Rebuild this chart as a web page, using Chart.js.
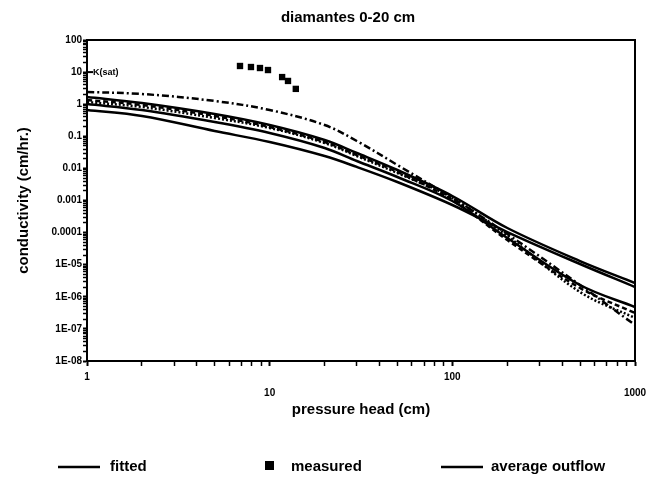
<!DOCTYPE html>
<html><head><meta charset="utf-8">
<style>html,body{margin:0;padding:0;background:#fff}#wrap{width:651px;height:488px}</style>
</head><body><div id="wrap"><canvas id="c" width="651" height="488"></canvas></div>
<script src="https://cdn.jsdelivr.net/npm/chart.js@4/dist/chart.umd.min.js"></script>
<script>
// pressure head samples (cm)
const pressureHead = [1, 2, 5, 10, 20, 30, 50, 100, 200, 500, 1000];
// conductivity curves (cm/hr)
const curveA = [2.40, 2.08, 1.26, 0.659, 0.225, 0.0714, 0.0128, 0.00120, 0.0000904, 2.33e-6, 1.32e-7];
const curveB = [1.67, 1.09, 0.495, 0.225, 0.0767, 0.0302, 0.00891, 0.00138, 0.000139, 0.0000130, 2.69e-6];
const curveC = [1.17, 0.818, 0.372, 0.182, 0.0618, 0.0243, 0.00719, 0.00120, 0.0000783, 1.41e-6, 2.19e-7];
const curveD = [0.659, 0.429, 0.146, 0.0664, 0.0243, 0.0111, 0.00377, 0.000724, 0.000104, 0.0000105, 2.02e-6];
const curveE = [1.35, 0.944, 0.429, 0.195, 0.0664, 0.0261, 0.00773, 0.00104, 0.0000587, 1.88e-6, 3.13e-7];
const curveF = [1.01, 0.659, 0.279, 0.127, 0.0433, 0.0170, 0.00540, 0.000964, 0.0000679, 2.33e-6, 4.81e-7];
// measured points
const measuredHead = [6.88, 7.90, 8.85, 9.79, 11.7, 12.6, 13.9];
const measuredK = [15.5, 14.4, 13.4, 11.6, 7.0, 5.3, 3.0];
const ksatValue = 10;
// ticks
const xDecades = [1, 10, 100, 1000];
const xTickLabels = ['1', '10', '100', '1000'];
const yDecades = [1e-8, 1e-7, 1e-6, 1e-5, 1e-4, 1e-3, 1e-2, 1e-1, 1, 10, 100];
const yTickLabels = ['1E-08', '1E-07', '1E-06', '1E-05', '0.0001', '0.001', '0.01', '0.1', '1', '10', '100'];

const FONT = "'Liberation Sans', Arial, sans-serif";

function logTicks(decades) {
  const t = [];
  for (let i = 0; i < decades.length - 1; i++) {
    for (let m = 1; m <= 9; m++) t.push({ value: decades[i] * m });
  }
  t.push({ value: decades[decades.length - 1] });
  return t;
}
function decadeIndex(decades, v) {
  for (let i = 0; i < decades.length; i++) {
    if (Math.abs(Math.log10(v) - Math.log10(decades[i])) < 1e-6) return i;
  }
  return -1;
}
function pts(ys) { return pressureHead.map((x, i) => ({ x, y: ys[i] })); }
function lineDs(label, ys, dash) {
  return { label, data: pts(ys), borderColor: '#000', borderWidth: 2.5, borderDash: dash,
    pointRadius: 0, fill: false, tension: 0.35 };
}

const extras = {
  id: 'extras',
  afterDraw(chart) {
    const { ctx, chartArea: a } = chart;
    ctx.save();
    ctx.strokeStyle = '#000'; ctx.lineWidth = 2;
    ctx.strokeRect(a.left, a.top, a.right - a.left, a.bottom - a.top);
    ctx.fillStyle = '#000';
    ctx.font = "bold 15px " + FONT;
    ctx.textAlign = 'center'; ctx.textBaseline = 'middle';
    ctx.fillText('diamantes 0-20 cm', 348, 18);
    // Ksat marker
    const yk = chart.scales.y.getPixelForValue(ksatValue);
    ctx.lineWidth = 2;
    ctx.beginPath(); ctx.moveTo(a.left, yk); ctx.lineTo(a.left + 6, yk); ctx.stroke();
    ctx.font = "bold 9px " + FONT; ctx.textAlign = 'left';
    ctx.fillText('K(sat)', a.left + 6, yk);
    // legend
    const ly = 467;
    ctx.lineWidth = 2.5;
    ctx.beginPath(); ctx.moveTo(58, ly); ctx.lineTo(100, ly); ctx.stroke();
    ctx.beginPath(); ctx.moveTo(441, ly); ctx.lineTo(483, ly); ctx.stroke();
    ctx.fillRect(265, ly - 6, 9, 9);
    ctx.font = "bold 15px " + FONT; ctx.textAlign = 'left';
    ctx.fillText('fitted', 110, ly);
    ctx.fillText('measured', 291, ly);
    ctx.fillText('average outflow', 491, ly);
    ctx.restore();
  }
};

new Chart(document.getElementById('c'), {
  type: 'line',
  data: {
    datasets: [
      lineDs('A', curveA, [7, 3, 2, 3]),
      lineDs('B', curveB, []),
      lineDs('C', curveC, [2, 2]),
      lineDs('D', curveD, []),
      lineDs('E', curveE, [5, 3]),
      lineDs('F', curveF, []),
      { label: 'measured', type: 'scatter', showLine: false,
        data: measuredHead.map((x, i) => ({ x, y: measuredK[i] })),
        pointStyle: 'rect', pointRadius: 4.5, backgroundColor: '#000', borderColor: '#000', borderWidth: 0 }
    ]
  },
  options: {
    responsive: false, animation: false, devicePixelRatio: 1,
    layout: { padding: { left: 9, top: 40, right: 16, bottom: 66 } },
    plugins: { legend: { display: false }, tooltip: { enabled: false }, title: { display: false } },
    scales: {
      x: {
        type: 'logarithmic', min: 1, max: 1000,
        afterFit(s) { s.height = 61; },
        afterBuildTicks(s) { s.ticks = logTicks(xDecades); },
        border: { color: '#000', width: 2 },
        grid: { drawOnChartArea: false, drawTicks: true, tickLength: 5, color: '#000', tickColor: '#000',
          tickWidth: c => decadeIndex(xDecades, c.tick.value) >= 0 ? 2 : 1.5 },
        ticks: {
          autoSkip: false, maxRotation: 0, color: '#000', padding: 3,
          font: { family: FONT, size: 10, weight: 'bold', lineHeight: 1.6 },
          callback(v) {
            const i = decadeIndex(xDecades, v);
            if (i < 0) return '';
            return (i % 2 === 1) ? ['', xTickLabels[i]] : xTickLabels[i];
          }
        },
        title: { display: true, text: 'pressure head (cm)', color: '#000',
          font: { family: FONT, size: 15, weight: 'bold' }, padding: { top: 0, bottom: 3 } }
      },
      y: {
        type: 'logarithmic', min: 1e-8, max: 100,
        afterFit(s) { s.width = 78; },
        afterBuildTicks(s) { s.ticks = logTicks(yDecades); },
        border: { color: '#000', width: 2 },
        grid: { drawOnChartArea: false, drawTicks: true, tickLength: 4, color: '#000', tickColor: '#000',
          tickWidth: c => decadeIndex(yDecades, c.tick.value) >= 0 ? 2 : 1.5 },
        ticks: {
          autoSkip: false, color: '#000', padding: 1,
          font: { family: FONT, size: 10, weight: 'bold' },
          callback(v) {
            const i = decadeIndex(yDecades, v);
            return i < 0 ? '' : yTickLabels[i];
          }
        },
        title: { display: true, text: 'conductivity (cm/hr.)', color: '#000',
          font: { family: FONT, size: 15, weight: 'bold' }, padding: { top: 6, bottom: 0 } }
      }
    }
  },
  plugins: [extras]
});
</script>
</body></html>
